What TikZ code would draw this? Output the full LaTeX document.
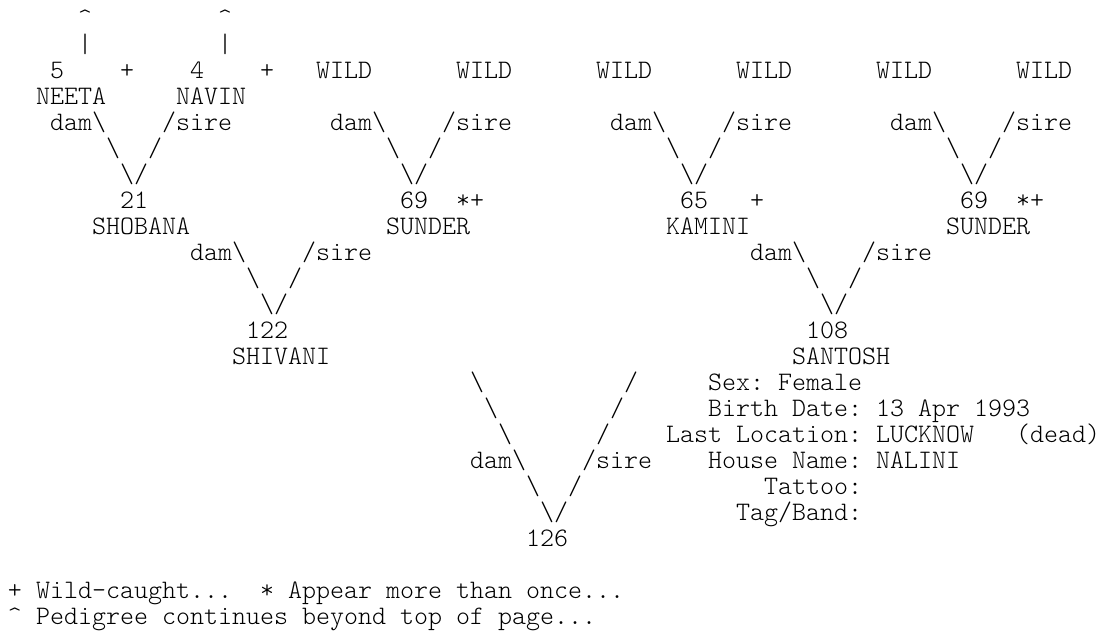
\documentclass[tikz,border=0pt]{standalone}
\usepackage{fontspec}
\newfontfamily\pedmono{Latin Modern Mono Light}
\newcommand{\pbs}{\textbackslash}
\begin{document}
\frenchspacing
\begin{tikzpicture}[x=14pt, y=-26pt,
	txt/.style={ anchor=base west, inner sep=0pt, outer sep=0pt, font=\pedmono\fontsize{26.67pt}{26pt}\selectfont }
]
\useasboundingbox (-8pt,26pt) rectangle ++(1104pt,-637pt);

% beyond top of page
\node[txt] (up5) at (5,0) {\textasciicircum};
\node[txt] (up4) at (15,0) {\textasciicircum};
\node[txt] (bar5) at (5,1) {|};
\node[txt] (bar4) at (15,1) {|};

% first generation
\node[txt] (n5) at (3,2) {5};
\node[txt] (p5) at (8,2) {+};
\node[txt] (n4) at (13,2) {4};
\node[txt] (p4) at (18,2) {+};
\node[txt] (wild1) at (22,2) {WILD};
\node[txt] (wild2) at (32,2) {WILD};
\node[txt] (wild3) at (42,2) {WILD};
\node[txt] (wild4) at (52,2) {WILD};
\node[txt] (wild5) at (62,2) {WILD};
\node[txt] (wild6) at (72,2) {WILD};
\node[txt] (neeta) at (2,3) {NEETA};
\node[txt] (navin) at (12,3) {NAVIN};

\node[txt] (dam21) at (3,4) {dam\pbs};
\node[txt] (sire21) at (11,4) {/sire};
\node[txt] at (7,5) {\pbs};
\node[txt] at (10,5) {/};
\node[txt] at (8,6) {\pbs/};
\node[txt] (dam69a) at (23,4) {dam\pbs};
\node[txt] (sire69a) at (31,4) {/sire};
\node[txt] at (27,5) {\pbs};
\node[txt] at (30,5) {/};
\node[txt] at (28,6) {\pbs/};
\node[txt] (dam65) at (43,4) {dam\pbs};
\node[txt] (sire65) at (51,4) {/sire};
\node[txt] at (47,5) {\pbs};
\node[txt] at (50,5) {/};
\node[txt] at (48,6) {\pbs/};
\node[txt] (dam69b) at (63,4) {dam\pbs};
\node[txt] (sire69b) at (71,4) {/sire};
\node[txt] at (67,5) {\pbs};
\node[txt] at (70,5) {/};
\node[txt] at (68,6) {\pbs/};

% second generation
\node[txt] (n21) at (8,7) {21};
\node[txt] (shobana) at (6,8) {SHOBANA};
\node[txt] (n69a) at (28,7) {69};
\node[txt] (m69a) at (32,7) {*+};
\node[txt] (sunder1) at (27,8) {SUNDER};
\node[txt] (n65) at (48,7) {65};
\node[txt] (m65) at (53,7) {+};
\node[txt] (kamini) at (47,8) {KAMINI};
\node[txt] (n69b) at (68,7) {69};
\node[txt] (m69b) at (72,7) {*+};
\node[txt] (sunder2) at (67,8) {SUNDER};

\node[txt] (dam122) at (13,9) {dam\pbs};
\node[txt] (sire122) at (21,9) {/sire};
\node[txt] at (17,10) {\pbs};
\node[txt] at (20,10) {/};
\node[txt] at (18,11) {\pbs/};
\node[txt] (dam108) at (53,9) {dam\pbs};
\node[txt] (sire108) at (61,9) {/sire};
\node[txt] at (57,10) {\pbs};
\node[txt] at (60,10) {/};
\node[txt] at (58,11) {\pbs/};

% third generation
\node[txt] (n122) at (17,12) {122};
\node[txt] (shivani) at (16,13) {SHIVANI};
\node[txt] (n108) at (57,12) {108};
\node[txt] (santosh) at (56,13) {SANTOSH};

\node[txt] at (33,14) {\pbs};
\node[txt] at (44,14) {/};
\node[txt] at (34,15) {\pbs};
\node[txt] at (43,15) {/};
\node[txt] at (35,16) {\pbs};
\node[txt] at (42,16) {/};
\node[txt] (dam126) at (33,17) {dam\pbs};
\node[txt] (sire126) at (41,17) {/sire};
\node[txt] at (37,18) {\pbs};
\node[txt] at (40,18) {/};
\node[txt] at (38,19) {\pbs/};
\node[txt] (n126) at (37,20) {126};

% details of SANTOSH
\node[txt] (sex) at (50,14) {Sex: Female};
\node[txt] (birth) at (50,15) {Birth Date: 13 Apr 1993};
\node[txt] (loc) at (47,16) {Last Location: LUCKNOW~~~(dead)};
\node[txt] (house) at (50,17) {House Name: NALINI};
\node[txt] (tattoo) at (54,18) {Tattoo:};
\node[txt] (tag) at (52,19) {Tag/Band:};

% legend
\node[txt] (key1) at (0,22) {+ Wild-caught...~~* Appear more than once...};
\node[txt] (key2) at (0,23) {\textasciicircum{} Pedigree continues beyond top of page...};

\end{tikzpicture}
\end{document}
